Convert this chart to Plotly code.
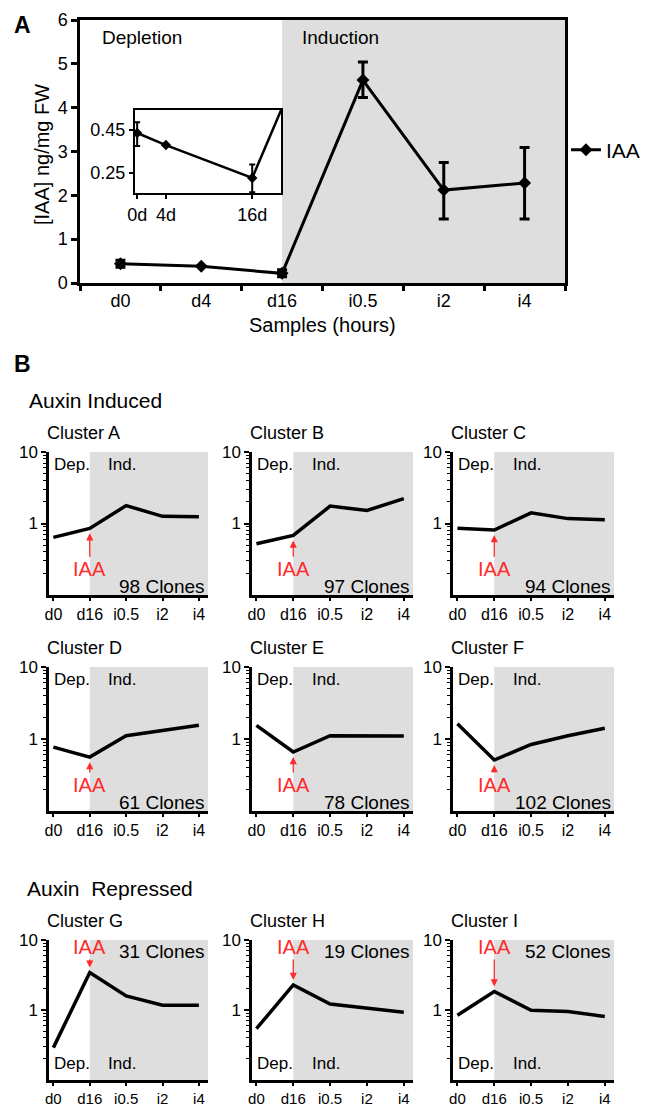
import math
import plotly.graph_objects as go

W, H = 657, 1108
FONT = "Liberation Sans, Arial, Helvetica, sans-serif"
SHADE = "#dedede"
RED = "#ff2b2b"

# ---------------- Panel A data ----------------
samples = ["d0", "d4", "d16", "i0.5", "i2", "i4"]
iaa = [0.44, 0.38, 0.22, 4.63, 2.12, 2.28]
iaa_err_plus = [0.08, 0.0, 0.08, 0.41, 0.63, 0.81]
iaa_err_minus = [0.08, 0.0, 0.08, 0.40, 0.66, 0.82]

inset_days = [0, 4, 16]
inset_labels = ["0d", "4d", "16d"]
inset_iaa = [0.436, 0.38, 0.227]
inset_err_plus = [0.05, 0.0, 0.063]
inset_err_minus = [0.06, 0.0, 0.067]
inset_next_day = 72  # i0.5 continuation, clipped at the inset edge

# ---------------- Panel B data ----------------
cluster_samples = ["d0", "d16", "i0.5", "i2", "i4"]
cluster_names = ["A", "B", "C", "D", "E", "F", "G", "H", "I"]
clone_counts = [98, 97, 94, 61, 78, 102, 31, 19, 52]
cluster_group = ["induced"] * 6 + ["repressed"] * 3
profile_A = [0.64, 0.855, 1.78, 1.26, 1.24]
profile_B = [0.52, 0.68, 1.75, 1.52, 2.23]
profile_C = [0.855, 0.81, 1.41, 1.17, 1.13]
profile_D = [0.77, 0.56, 1.11, 1.30, 1.55]
profile_E = [1.55, 0.66, 1.11, 1.11, 1.10]
profile_F = [1.63, 0.51, 0.84, 1.11, 1.41]
profile_G = [0.29, 3.43, 1.59, 1.17, 1.17]
profile_H = [0.54, 2.28, 1.22, 1.08, 0.93]
profile_I = [0.84, 1.84, 0.99, 0.95, 0.81]
profiles = [profile_A, profile_B, profile_C, profile_D, profile_E,
            profile_F, profile_G, profile_H, profile_I]


def dxp(a, b):
    return [a / W, b / W]


def dyp(top, bottom):
    return [1 - bottom / H, 1 - top / H]


def px(x):
    return x / W


def py(y):
    return 1 - y / H


fig = go.Figure()
layout = {}
shapes = []
annotations = []

# ---------------- Panel A main ----------------
fig.add_trace(go.Scatter(
    x=samples, y=iaa, mode="lines+markers", name="IAA",
    line=dict(color="black", width=3),
    marker=dict(symbol="diamond", size=10, color="black"),
    error_y=dict(type="data", symmetric=False, array=iaa_err_plus,
                 arrayminus=iaa_err_minus, thickness=3, width=5, color="black"),
    xaxis="x", yaxis="y", showlegend=True))

layout["xaxis"] = dict(domain=dxp(80, 565), anchor="y", type="category",
                       range=[-0.5, 5.5], tickson="boundaries", ticks="outside",
                       ticklen=5, tickwidth=2.5, tickcolor="black",
                       showline=True, linewidth=2.5, linecolor="black", mirror=True,
                       showgrid=False, zeroline=False, tickfont=dict(size=18),
                       automargin=False)
layout["yaxis"] = dict(domain=dyp(20, 283), anchor="x", range=[0, 6], dtick=1,
                       ticks="outside", ticklen=6, tickwidth=2.5, tickcolor="black",
                       showline=True, linewidth=2.5, linecolor="black", mirror=True,
                       showgrid=False, zeroline=False, tickfont=dict(size=18),
                       automargin=False)
shapes.append(dict(type="rect", xref="x", yref="y domain", x0=samples.index("d16"),
                   x1=5.5, y0=0, y1=1, fillcolor=SHADE, line=dict(width=0), layer="below"))

# ---------------- Panel A inset ----------------
fig.add_trace(go.Scatter(
    x=inset_days + [inset_next_day], y=inset_iaa + [iaa[3]], mode="lines+markers",
    line=dict(color="black", width=2.5),
    marker=dict(symbol="diamond", size=8, color="black"),
    error_y=dict(type="data", symmetric=False, array=inset_err_plus + [0],
                 arrayminus=inset_err_minus + [0], thickness=2, width=3, color="black"),
    xaxis="x2", yaxis="y2", showlegend=False))
layout["xaxis2"] = dict(domain=dxp(135, 281), anchor="y2", range=[-0.3, 20],
                        tickvals=inset_days, ticktext=inset_labels, ticks="outside",
                        ticklen=4, tickwidth=2, tickcolor="black",
                        showline=True, linewidth=2, linecolor="black", mirror=True,
                        showgrid=False, zeroline=False, tickfont=dict(size=18),
                        automargin=False)
layout["yaxis2"] = dict(domain=dyp(110, 193), anchor="x2", range=[0.157, 0.543],
                        tickvals=[0.25, 0.45], ticktext=["0.25", "0.45"], ticks="outside",
                        ticklen=4, tickwidth=2, tickcolor="black",
                        showline=True, linewidth=2, linecolor="black", mirror=True,
                        showgrid=False, zeroline=False, tickfont=dict(size=18),
                        automargin=False)
shapes.append(dict(type="rect", xref="x2", yref="y2 domain", x0=16, x1=20, y0=0, y1=1,
                   fillcolor=SHADE, line=dict(width=0), layer="below"))


def txt(text, x, y, size, xanchor="left", color="black", bold=False, **kw):
    d = dict(text=("<b>%s</b>" % text) if bold else text, x=x, y=y, xref="paper",
             yref="paper", xanchor=xanchor, yanchor="middle", showarrow=False,
             font=dict(size=size, color=color, family=FONT))
    d.update(kw)
    return d


annotations += [
    txt("A", px(12), py(25), 23, bold=True),
    txt("Depletion", px(100), py(37), 19),
    txt("Induction", px(300), py(37), 19),
    txt("[IAA] ng/mg FW", px(42), py(155), 20, xanchor="center", textangle=-90),
    txt("Samples (hours)", px(322), py(325), 20, xanchor="center"),
    txt("B", px(12), py(364), 23, bold=True),
    txt("Auxin Induced", px(27), py(400), 21),
    txt("Auxin\u00a0\u00a0Repressed", px(25), py(888), 21),
]

# ---------------- Panel B ----------------
col_x = [(49, 208), (252, 413), (453, 614)]
row_y = [(452, 595), (667, 811), (940, 1080)]
row_tick_size = [16, 16, 15]
minor_vals = [0.2, 0.3, 0.4, 0.5, 0.6, 0.7, 0.8, 0.9, 2, 3, 4, 5, 6, 7, 8, 9]
x_end = 4.25

for k, prof in enumerate(profiles):
    r, c = divmod(k, 3)
    n = k + 3
    xa, ya = "x%d" % n, "y%d" % n
    fig.add_trace(go.Scatter(x=cluster_samples, y=prof, mode="lines",
                             line=dict(color="black", width=3.5),
                             xaxis=xa, yaxis=ya, showlegend=False))
    layout["xaxis%d" % n] = dict(domain=dxp(*col_x[c]), anchor=ya, type="category",
                                 range=[-0.12, x_end], ticks="outside", ticklen=3,
                                 tickwidth=1.5, tickcolor="black", showline=True,
                                 linewidth=2.5, linecolor="black", showgrid=False,
                                 zeroline=False, tickfont=dict(size=row_tick_size[r]),
                                 automargin=False)
    layout["yaxis%d" % n] = dict(domain=dyp(*row_y[r]), anchor=xa, type="log",
                                 range=[-1, 1], tickvals=[1, 10], ticktext=["1", "10"],
                                 ticks="outside", ticklen=5, tickwidth=1.5,
                                 tickcolor="black", showline=True, linewidth=2.5,
                                 linecolor="black", showgrid=False, zeroline=False,
                                 tickfont=dict(size=17), automargin=False,
                                 minor=dict(tickmode="array", tickvals=minor_vals,
                                            ticks="outside", ticklen=3, tickwidth=1,
                                            tickcolor="black", showgrid=False))
    d16 = cluster_samples.index("d16")
    shapes.append(dict(type="rect", xref=xa, yref=ya + " domain", x0=d16, x1=x_end,
                       y0=0, y1=1, fillcolor=SHADE, line=dict(width=0), layer="below"))

    annotations.append(txt("Cluster %s" % cluster_names[k], px(col_x[c][0] - 4),
                           py(row_y[r][0] - 19), 18))

    dom_x, dom_y = xa + " domain", ya + " domain"
    if cluster_group[k] == "induced":
        lab_y, clone_y, iaa_y = 0.91, 0.06, 0.18
    else:
        lab_y, clone_y, iaa_y = 0.12, 0.92, 0.95
    base = dict(showarrow=False, yanchor="middle", font=dict(size=17, family=FONT, color="black"))
    annotations.append(dict(base, text="Dep.", x=0.02, y=lab_y, xref=dom_x, yref=dom_y,
                            xanchor="left"))
    annotations.append(dict(base, text="Ind.", x=0.36, y=lab_y, xref=dom_x, yref=dom_y,
                            xanchor="left"))
    annotations.append(dict(showarrow=False, yanchor="middle", xanchor="right",
                            text="%d Clones" % clone_counts[k], x=0.995, y=clone_y,
                            xref=dom_x, yref=dom_y,
                            font=dict(size=19, family=FONT, color="black")))
    # red IAA label with arrow pointing at the d16 value
    yr = layout["yaxis%d" % n]["range"]
    annotations.append(dict(text="IAA", x=d16, y=math.log10(prof[d16]), xref=xa, yref=ya,
                            ax=d16, ay=yr[0] + (yr[1] - yr[0]) * iaa_y,
                            axref=xa, ayref=ya, showarrow=True,
                            arrowhead=2, arrowsize=1.1, arrowwidth=1.3, arrowcolor=RED,
                            standoff=5, font=dict(size=20, family=FONT, color=RED)))

fig.update_layout(
    width=W, height=H, autosize=False,
    margin=dict(l=0, r=0, t=0, b=0, pad=0),
    paper_bgcolor="white", plot_bgcolor="white",
    font=dict(family=FONT, color="black"),
    shapes=shapes, annotations=annotations,
    legend=dict(x=px(566), y=py(150), xanchor="left", yanchor="middle",
                font=dict(size=21, family=FONT), bgcolor="rgba(0,0,0,0)",
                itemwidth=30, tracegroupgap=0, borderwidth=0),
    **layout)

fig.write_html("out.html", config={"displayModeBar": False},
               post_script="document.body.style.margin='0px';"
                           "document.body.style.overflow='hidden';")
